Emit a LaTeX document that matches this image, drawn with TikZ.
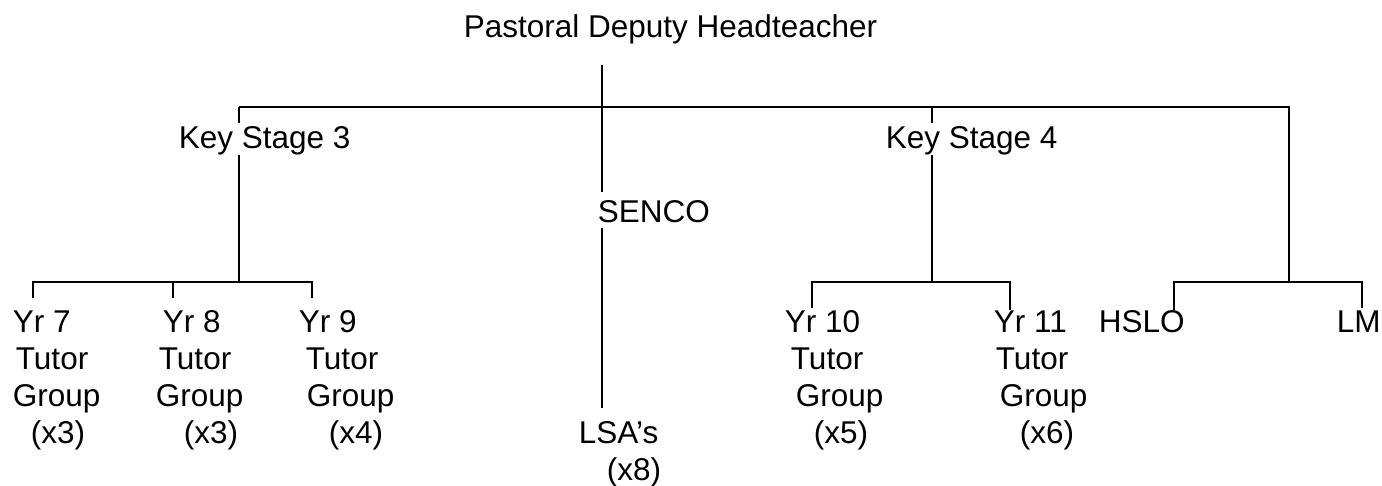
\documentclass[tikz,border=0pt]{standalone}
\usepackage{fontspec}
\setmainfont{Liberation Sans}
\begin{document}
\begin{tikzpicture}[x=1pt,y=-1pt,
  line width=1.8pt,
  lbl/.style={inner sep=0pt, anchor=base west, font=\fontsize{31.5}{37}\selectfont},
  blk/.style={inner sep=0pt, anchor=north west, align=left, font=\fontsize{31.5}{37}\selectfont}]
\useasboundingbox (0,0) rectangle (1382,485);
% text nodes
\node[lbl] (pdh) at (463,37) {Pastoral Deputy Headteacher};
\node[lbl] (ks3) at (178,148) {Key Stage 3};
\node[lbl] (ks4) at (885,148) {Key Stage 4};
\node[lbl] (senco) at (597,222) {SENCO};
\node[lbl] (hslo) at (1098,332) {HSLO};
\node[lbl] (lm) at (1336,332) {LM};
\node[blk] (yr7) at (12,307) {\rule{0pt}{25pt}Yr 7\\\hspace*{3pt}Tutor\\Group\\\hspace*{18pt}(x3)};
\node[blk] (yr8) at (155,307) {\rule{0pt}{25pt}\hspace*{7pt}Yr 8\\\hspace*{3pt}Tutor\\Group\\\hspace*{28pt}(x3)};
\node[blk] (yr9) at (298,307) {\rule{0pt}{25pt}Yr 9\\\hspace*{7pt}Tutor\\\hspace*{8pt}Group\\\hspace*{30pt}(x4)};
\node[blk] (yr10) at (784,307) {\rule{0pt}{25pt}Yr 10\\\hspace*{6pt}Tutor\\\hspace*{11pt}Group\\\hspace*{29pt}(x5)};
\node[blk] (yr11) at (993,307) {\rule{0pt}{25pt}Yr 11\\\hspace*{2pt}Tutor\\\hspace*{6pt}Group\\\hspace*{26pt}(x6)};
\node[blk] (lsa) at (578,418) {\rule{0pt}{25pt}LSA’s\\\hspace*{28pt}(x8)};
% junction coordinates
\coordinate (pdTop) at (602,65);
\coordinate (pdBar) at (602,107);
\coordinate (sencoTop) at (602,192);
\coordinate (sencoBot) at (602,228);
\coordinate (lsaTop) at (602,408);
\coordinate (ks3Top) at (239,107);
\coordinate (ks3A) at (239,123);
\coordinate (ks3B) at (239,155);
\coordinate (ks3Bar) at (239,282);
\coordinate (ks4Top) at (932,107);
\coordinate (ks4A) at (932,123);
\coordinate (ks4B) at (932,155);
\coordinate (ks4Bar) at (932,282);
\coordinate (rTop) at (1289,107);
\coordinate (rBar) at (1289,282);
\coordinate (b7) at (33,282);
\coordinate (b8) at (173,282);
\coordinate (b9) at (312,282);
\coordinate (b10) at (812,282);
\coordinate (b11) at (1010,282);
\coordinate (bh) at (1174,282);
\coordinate (bl) at (1362,282);
\coordinate (d7) at (33,298);
\coordinate (d8) at (173,298);
\coordinate (d9) at (312,298);
\coordinate (d10) at (812,308);
\coordinate (d11) at (1010,310);
\coordinate (dh) at (1174,310);
\coordinate (dl) at (1362,308);
% connectors
\draw (pdTop) -- (sencoTop);
\draw (sencoBot) -- (lsaTop);
\draw (ks3Top) -- (rTop) -- (rBar);
\draw (ks3Top) -- (ks3A);
\draw (ks3B) -- (ks3Bar);
\draw (ks4Top) -- (ks4A);
\draw (ks4B) -- (ks4Bar);
\draw (d7) -- (b7) -- (b9) -- (d9);
\draw (b8) -- (d8);
\draw (d10) -- (b10) -- (b11) -- (d11);
\draw (dh) -- (bh) -- (bl) -- (dl);
\end{tikzpicture}
\end{document}
